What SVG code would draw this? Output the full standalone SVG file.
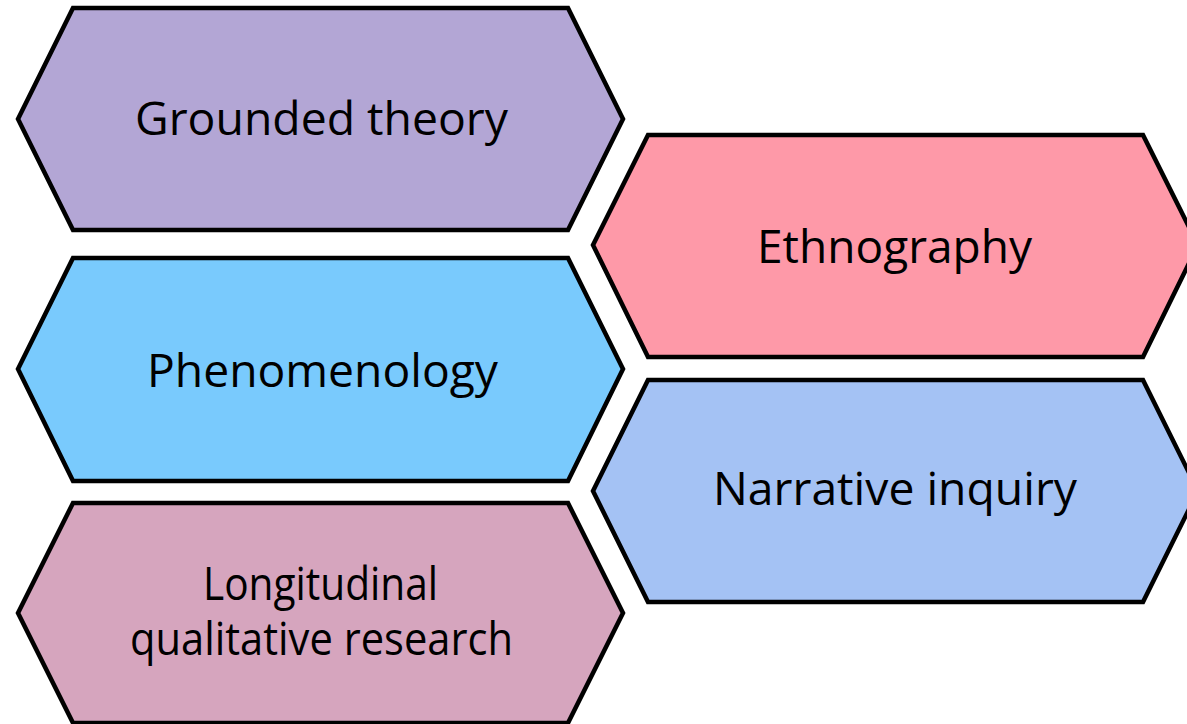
<svg xmlns="http://www.w3.org/2000/svg" width="1187" height="724" viewBox="0 0 1187 724">
<style>
.hex{stroke:#000;stroke-width:4.5;stroke-linejoin:miter}
.lbl{font-family:"Open Sans","Liberation Sans",sans-serif;font-size:45px;fill:#000;text-anchor:middle}
</style>
<rect width="1187" height="724" fill="#fff"/>
<g id="grounded-theory">
<polygon class="hex" fill="#B3A6D5" points="18,119 73,8 568,8 623,119 568,230 73,230"/>
<text class="lbl" x="321.5" y="135" textLength="373" lengthAdjust="spacingAndGlyphs">Grounded theory</text>
</g>
<g id="phenomenology">
<polygon class="hex" fill="#79CAFD" points="18,369 73,258 568,258 623,369 568,481 73,481"/>
<text class="lbl" x="322.5" y="387" textLength="351" lengthAdjust="spacingAndGlyphs">Phenomenology</text>
</g>
<g id="longitudinal">
<polygon class="hex" fill="#D6A5BE" points="18,613 73,503 568,503 623,613 568,723 73,723"/>
<text class="lbl" x="320.5" y="600" textLength="235" lengthAdjust="spacingAndGlyphs">Longitudinal</text>
<text class="lbl" x="321.5" y="655" textLength="383" lengthAdjust="spacingAndGlyphs">qualitative research</text>
</g>
<g id="ethnography">
<polygon class="hex" fill="#FE99A8" points="593,245 648,135 1143,135 1198,245 1143,357 648,357"/>
<text class="lbl" x="894.5" y="263" textLength="275" lengthAdjust="spacingAndGlyphs">Ethnography</text>
</g>
<g id="narrative-inquiry">
<polygon class="hex" fill="#A4C2F4" points="593,491 648,380 1143,380 1198,491 1143,602 648,602"/>
<text class="lbl" x="895" y="505" textLength="364" lengthAdjust="spacingAndGlyphs">Narrative inquiry</text>
</g>
<g id="connectors"/>
</svg>
